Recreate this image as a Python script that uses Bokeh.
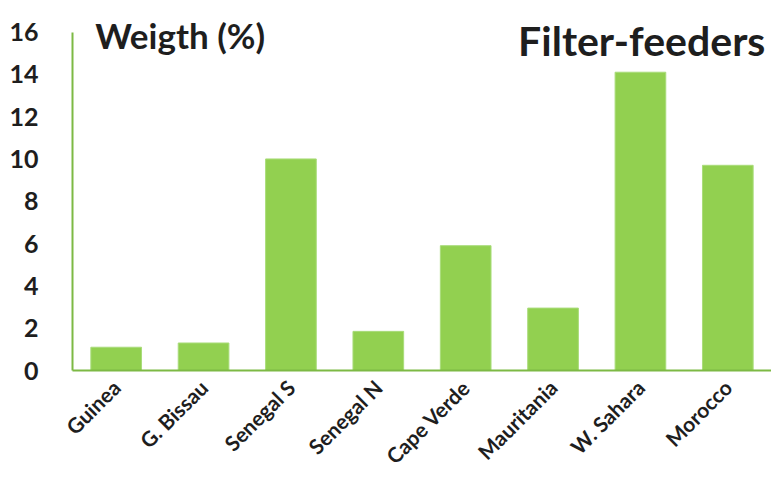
from bokeh.plotting import figure
from bokeh.models import Range1d, FactorRange, Label, FixedTicker
from bokeh.embed import file_html
from bokeh.resources import INLINE
import math

categories = ["Guinea", "G. Bissau", "Senegal S", "Senegal N", "Cape Verde", "Mauritania", "W. Sahara", "Morocco"]
values = [1.1, 1.3, 10.0, 1.85, 5.9, 2.95, 14.1, 9.7]
y_ticks = [0, 2, 4, 6, 8, 10, 12, 14, 16]

FONT = "Lato"
GREEN = "#92D050"
AXIS_GREEN = "#7DB944"
TEXT = "#1E1E1E"

p = figure(width=771, height=481, x_range=FactorRange(*categories), y_range=Range1d(0, 17.49),
           output_backend="svg", toolbar_location=None,
           min_border_left=72, min_border_right=0, min_border_top=0, min_border_bottom=111)
p.outline_line_color = None
p.grid.grid_line_color = None
p.background_fill_color = "white"

p.vbar(x=categories, top=values, width=0.58, fill_color=GREEN, line_color="#A9DC7A", line_width=1)

ya = p.yaxis[0]
ya.ticker = FixedTicker(ticks=y_ticks)
ya.bounds = (0, 16)
ya.axis_line_color = AXIS_GREEN
ya.axis_line_width = 2
ya.major_tick_line_color = None
ya.minor_tick_line_color = None
ya.major_label_text_font = FONT
ya.major_label_text_font_style = "bold"
ya.major_label_text_font_size = "25px"
ya.major_label_text_color = TEXT
ya.major_label_standoff = 28

xa = p.xaxis[0]
xa.axis_line_color = AXIS_GREEN
xa.axis_line_width = 2
xa.major_tick_line_color = None
xa.minor_tick_line_color = None
xa.major_label_orientation = math.pi / 4
xa.major_label_text_font = FONT
xa.major_label_text_font_style = "bold"
xa.major_label_text_font_size = "21px"
xa.major_label_text_color = TEXT
xa.major_label_standoff = 7

p.add_layout(Label(x=0.26, y=15.84, text="Weigth (%)", text_font=FONT, text_font_style="bold",
                   text_font_size="35px", text_color=TEXT, text_baseline="alphabetic"))
p.add_layout(Label(x=7.93, y=15.6, text="Filter-feeders", text_font=FONT, text_font_style="bold",
                   text_font_size="41px", text_color=TEXT, text_align="right", text_baseline="alphabetic"))

open("out.html", "w").write(file_html(p, INLINE))
